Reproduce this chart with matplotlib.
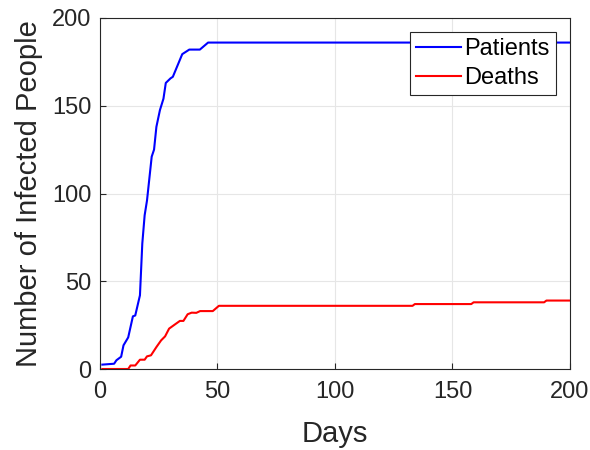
import numpy as np
import matplotlib
matplotlib.use('Agg')
import matplotlib.pyplot as plt

# values
patients_day = [1, 6, 7, 9, 10, 12, 14, 15, 17, 18, 19, 20, 22, 23, 24, 25.5, 27, 28, 30, 31, 35, 38, 42.5, 46, 200]
patients = [2.5, 3, 5, 7, 13.5, 18, 30, 30.5, 42, 71.5, 87.6, 96, 121, 125, 138, 147.5, 154, 163, 165.6, 166.5, 179.4, 182, 182, 186, 186]

deaths_day = [1, 12, 13, 15, 17, 19, 20, 21.7, 24, 26, 27.7, 29.4, 32, 34, 35.5, 37.3, 39, 41, 42.6, 48, 50.6,
              133, 134, 158, 159, 189, 190, 200]
deaths = [0, 0, 2, 2, 5.3, 5.3, 7.2, 7.8, 12.5, 16.3, 18.6, 23, 25.5, 27.4, 27.4, 31.2, 32.1, 32, 33, 33, 36,
          36, 37, 37, 38, 38, 39, 39]

ticks = [0, 50, 100, 150, 200]

plt.rcParams['font.family'] = ['Liberation Sans', 'DejaVu Sans']

fig = plt.figure(figsize=(5.9, 4.5), dpi=100)
ax = fig.add_axes([0.1695, 0.18, 0.7965, 0.78])

ax.plot(patients_day, patients, color='#0000ff', lw=1.5, label='Patients')
ax.plot(deaths_day, deaths, color='#ff0000', lw=1.5, label='Deaths')

ax.set_xlim(0, 200)
ax.set_ylim(0, 200)
ax.set_xticks(ticks)
ax.set_yticks(ticks)
ax.grid(True, color='#e6e6e6', lw=0.8)
ax.set_axisbelow(True)
ax.tick_params(direction='in', length=4, labelsize=17, colors='#262626', width=0.8)
ax.tick_params(axis='x', pad=9)
ax.tick_params(axis='y', pad=6)
for s in ax.spines.values():
    s.set_color('#262626')
    s.set_linewidth(0.8)

ax.set_xlabel('Days', fontsize=21, color='#262626', labelpad=12)
ax.set_ylabel('Number of Infected People', fontsize=21, color='#262626', labelpad=7)

leg = ax.legend(loc='upper right', fontsize=17, fancybox=False, framealpha=1,
                edgecolor='#262626', handlelength=1.9, handletextpad=0.15,
                borderpad=0.25, labelspacing=0.3, borderaxespad=0.6)
leg.get_frame().set_linewidth(0.8)

fig.savefig('out.png')
